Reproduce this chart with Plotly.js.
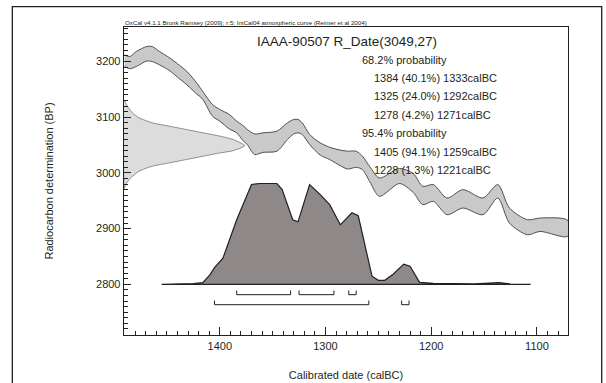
<!DOCTYPE html>
<html>
<head>
<meta charset="utf-8">
<script src="https://cdn.plot.ly/plotly-3.0.1.min.js"></script>
<style>
  html, body { margin: 0; padding: 0; background: #ffffff; }
  #chart { width: 606px; height: 383px; }
</style>
</head>
<body>
<div id="chart"></div>
<script>
// ---- Sample and radiocarbon measurement ----
const sampleName = 'IAAA-90507';
const c14Age = 3049;
const c14Err = 27;

// ---- IntCal04 calibration curve band (calBC year, upper / lower BP edge) ----
const curveYear  = [1490, 1485, 1479, 1469, 1464, 1457, 1447, 1440, 1431, 1422, 1416, 1407, 1400, 1391, 1384, 1378, 1374, 1367, 1359, 1346, 1336, 1330, 1326, 1322, 1315, 1305, 1296, 1286, 1279, 1271, 1265, 1258, 1249, 1230, 1217, 1208, 1198, 1185, 1170, 1151, 1137, 1126, 1109, 1097, 1071];
const curveUpper = [3212, 3209, 3218, 3227, 3227, 3218, 3206, 3196, 3182, 3162, 3146, 3123, 3114, 3105, 3093, 3085, 3078, 3070, 3072, 3075, 3090, 3096, 3096, 3090, 3069, 3054, 3046, 3041, 3039, 3039, 3030, 3011, 2991, 3008, 2999, 2976, 2979, 2955, 2970, 2955, 2979, 2937, 2916, 2919, 2915];
const curveLower = [3191, 3187, 3191, 3201, 3200, 3194, 3183, 3172, 3158, 3142, 3132, 3102, 3093, 3079, 3072, 3058, 3051, 3033, 3037, 3039, 3060, 3070, 3072, 3069, 3051, 3032, 3024, 3013, 3007, 3010, 3006, 2984, 2958, 2981, 2965, 2943, 2949, 2925, 2937, 2925, 2955, 2910, 2889, 2895, 2886];

// ---- Radiocarbon date profile on the BP axis (relative probability) ----
const dateBP   = [3131, 3120, 3108, 3099, 3090, 3084, 3078, 3072, 3066, 3060, 3049, 3040, 3036, 3030, 3024, 3018, 3012, 3003, 2991, 2979, 2970];
const dateProb = [0, 0.027, 0.069, 0.124, 0.232, 0.373, 0.514, 0.654, 0.795, 0.903, 1.0, 0.903, 0.795, 0.654, 0.514, 0.373, 0.232, 0.124, 0.055, 0.014, 0];

// ---- Calibrated date distribution (calBC year, relative probability) ----
const calYear = [1455, 1440, 1425, 1416, 1409, 1405, 1397, 1384, 1370, 1362, 1346, 1341, 1331, 1326, 1315, 1305, 1296, 1286, 1275, 1269, 1261, 1256, 1250, 1244, 1236, 1226, 1220, 1211, 1198, 1173, 1159, 1136, 1125, 1106];
const calProb = [0, 0.003, 0.008, 0.017, 0.099, 0.165, 0.26, 0.64, 0.99, 1.0, 1.0, 0.94, 0.64, 0.62, 0.99, 0.89, 0.79, 0.59, 0.71, 0.68, 0.30, 0.08, 0.04, 0.04, 0.10, 0.20, 0.18, 0.02, 0.01, 0.01, 0.005, 0.017, 0.003, 0];

// ---- Highest probability ranges ----
const range68From = [1384, 1325, 1278];
const range68To   = [1333, 1292, 1271];
const range68Pct  = ['40.1', '24.0', '4.2'];
const range95From = [1405, 1228];
const range95To   = [1259, 1221];
const range95Pct  = ['94.1', '1.3'];

// ---- Axis ticks ----
const xTicks = [1400, 1300, 1200, 1100];
const yTicks = [2800, 2900, 3000, 3100, 3200];

// ---- Drawing geometry ----
const X_RANGE = [1490.6, 1070.6];
const Y_RANGE = [2709, 3262];
const DATE_WIDTH = 114.3;      // calendar years spanned by the peak of the BP profile
const CAL_BASE = 2800;         // baseline of the calibrated distribution
const CAL_HEIGHT = 181;        // height of its peak, in BP units
const BAR68_Y = 2781.4, BAR95_Y = 2763.4, BAR_TICK = 7.5;

const INK = '#231f20';
const FONT = 'Liberation Sans, Arial, sans-serif';

const L = 124, T = 27, W = 444, H = 308;
const fx = px => (px - L) / W;
const fy = py => (T + H - py) / H;

const traces = [];

// BP profile of the measurement, hanging off the y axis
{
  const xs = [], ys = [];
  dateBP.forEach((bp, i) => { xs.push(X_RANGE[0] - dateProb[i] * DATE_WIDTH); ys.push(bp); });
  xs.push(X_RANGE[0]); ys.push(dateBP[dateBP.length - 1]);
  xs.push(X_RANGE[0]); ys.push(dateBP[0]);
  traces.push({
    type: 'scatter', mode: 'lines', x: xs, y: ys, fill: 'toself',
    fillcolor: '#dcdcdc', line: { color: '#8c8c8c', width: 1, shape: 'spline', smoothing: 0.6 },
    hoverinfo: 'skip', showlegend: false
  });
}

// Calibration curve band
{
  const xs = curveYear.concat(curveYear.slice().reverse());
  const ys = curveUpper.concat(curveLower.slice().reverse());
  traces.push({
    type: 'scatter', mode: 'lines', x: xs, y: ys, fill: 'toself',
    fillcolor: '#c9c9c9', line: { color: '#505050', width: 1, shape: 'spline', smoothing: 0.8 },
    hoverinfo: 'skip', showlegend: false
  });
}

// Calibrated probability distribution
{
  const xs = calYear.slice(), ys = calProb.map(p => CAL_BASE + p * CAL_HEIGHT);
  xs.push(calYear[calYear.length - 1], calYear[0]);
  ys.push(CAL_BASE, CAL_BASE);
  traces.push({
    type: 'scatter', mode: 'lines', x: xs, y: ys, fill: 'toself',
    fillcolor: '#8e8888', line: { color: INK, width: 1.2, shape: 'linear' },
    hoverinfo: 'skip', showlegend: false
  });
}

// Range brackets
function brackets(from, to, yLevel) {
  const xs = [], ys = [];
  from.forEach((a, i) => {
    xs.push(a, a, to[i], to[i], null);
    ys.push(yLevel + BAR_TICK, yLevel, yLevel, yLevel + BAR_TICK, null);
  });
  return {
    type: 'scatter', mode: 'lines', x: xs, y: ys,
    line: { color: INK, width: 1 }, hoverinfo: 'skip', showlegend: false
  };
}
traces.push(brackets(range68From, range68To, BAR68_Y));
traces.push(brackets(range95From, range95To, BAR95_Y));

// ---- Text ----
const annotations = [];
function label(text, px, py, size) {
  annotations.push({
    text: text, xref: 'paper', yref: 'paper', x: fx(px), y: fy(py),
    xanchor: 'left', yanchor: 'middle', showarrow: false,
    font: { family: FONT, size: size, color: INK }
  });
}
label('OxCal v4.1.1 Bronk Ramsey (2009); r:5; IntCal04 atmospheric curve (Reimer et al 2004)', 123, 22.8, 6.2);
label(sampleName + ' R_Date(' + c14Age + ',' + c14Err + ')', 255, 41.7, 13.5);
const lines = [];
lines.push({ t: '68.2% probability', indent: false });
range68From.forEach((a, i) => lines.push({ t: a + ' (' + range68Pct[i] + '%) ' + range68To[i] + 'calBC', indent: true }));
lines.push({ t: '95.4% probability', indent: false });
range95From.forEach((a, i) => lines.push({ t: a + ' (' + range95Pct[i] + '%) ' + range95To[i] + 'calBC', indent: true }));
lines.forEach((ln, i) => label(ln.t, ln.indent ? 372 : 359.5, 59.5 + i * 18.4, 11));

// Outer frame around the whole figure
const shapes = [{
  type: 'rect', xref: 'paper', yref: 'paper',
  x0: fx(12.3), x1: fx(601.7), y0: fy(400), y1: fy(6.7),
  line: { color: INK, width: 1.3 }, fillcolor: 'rgba(0,0,0,0)', layer: 'below'
}];

const layout = {
  width: 606, height: 383,
  margin: { l: L, r: 606 - L - W, t: T, b: 383 - T - H, pad: 0 },
  paper_bgcolor: '#ffffff', plot_bgcolor: '#ffffff',
  showlegend: false,
  font: { family: FONT, color: INK, size: 11 },
  xaxis: {
    range: X_RANGE, autorange: false,
    tickmode: 'array', tickvals: xTicks, ticktext: xTicks.map(String),
    ticks: 'inside', ticklen: 8, tickwidth: 1, tickcolor: INK,
    minor: { tickmode: 'linear', tick0: 0, dtick: 10, ticks: 'inside', ticklen: 4, tickwidth: 1, tickcolor: INK, showgrid: false },
    showline: true, mirror: true, linecolor: INK, linewidth: 1.3,
    showgrid: false, zeroline: false,
    tickfont: { family: FONT, size: 11, color: INK },
    title: { text: 'Calibrated date (calBC)', font: { family: FONT, size: 11, color: INK }, standoff: 20 }
  },
  yaxis: {
    range: Y_RANGE, autorange: false,
    tickmode: 'array', tickvals: yTicks, ticktext: yTicks.map(String),
    ticks: 'inside', ticklen: 7, tickwidth: 1, tickcolor: INK,
    minor: { tickmode: 'linear', tick0: 0, dtick: 10, ticks: 'inside', ticklen: 3.5, tickwidth: 1, tickcolor: INK, showgrid: false },
    showline: true, mirror: true, linecolor: INK, linewidth: 1.3,
    showgrid: false, zeroline: false,
    tickfont: { family: FONT, size: 11, color: INK },
    title: { text: 'Radiocarbon determination (BP)', font: { family: FONT, size: 11, color: INK }, standoff: 40 }
  },
  annotations: annotations,
  shapes: shapes
};

Plotly.newPlot('chart', traces, layout, { staticPlot: true, displayModeBar: false });
</script>
</body>
</html>
